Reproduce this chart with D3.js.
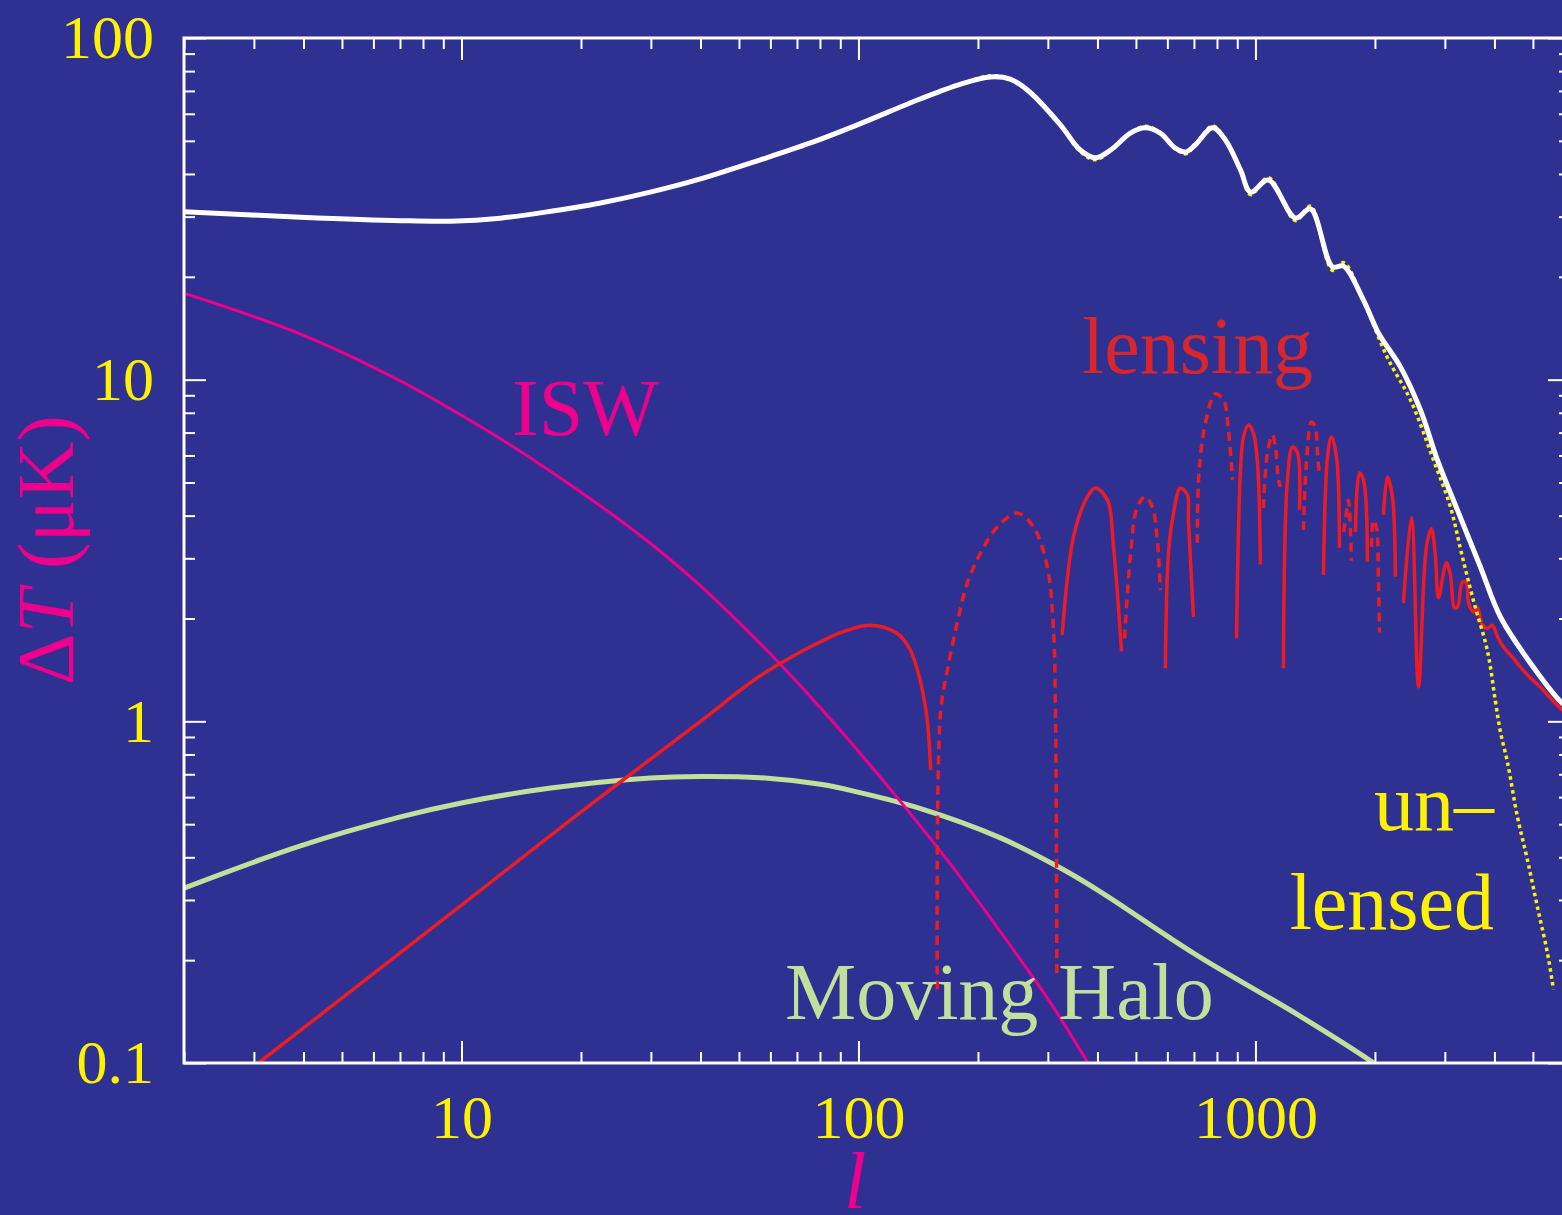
<!DOCTYPE html>
<html>
<head>
<meta charset="utf-8">
<script src="https://cdn.jsdelivr.net/npm/d3@7"></script>
<style>
  html, body { margin: 0; padding: 0; background: #2e3192; }
  svg { display: block; }
</style>
</head>
<body>
<svg width="1562" height="1215"></svg>
<script>
// multipole l and temperature amplitude (uK)
var totalL = [2, 3.93, 7.02, 9.38, 12.54, 16.8, 22.4, 29.9, 40, 56.6, 75.7, 99.4, 143, 181, 215, 241, 270, 323, 362, 395, 432, 484, 528, 576, 628, 667, 706, 780, 840, 917, 972, 1078, 1262, 1376, 1563, 1667, 1871, 2041, 2319, 2604, 2873, 3228, 3688, 4142, 5015, 5933, 6200];
var totalV = [31.0, 29.9, 29.2, 29.1, 29.7, 31.1, 32.9, 35.4, 38.7, 44.0, 49.3, 55.7, 66.3, 73.3, 76.9, 75.8, 69.5, 55.6, 47.0, 44.6, 47.0, 52.7, 54.6, 52.7, 47.6, 46.4, 48.7, 54.6, 50.3, 41.1, 35.4, 38.4, 29.7, 31.6, 21.4, 21.5, 17.1, 13.7, 10.9, 8.15, 5.82, 4.15, 2.83, 2.02, 1.44, 1.13, 1.10];

var unlensL = [2, 3.93, 7.02, 9.38, 12.54, 16.8, 22.4, 29.9, 40, 56.6, 75.7, 99.4, 143, 181, 215, 241, 270, 323, 362, 395, 432, 484, 528, 576, 628, 667, 706, 780, 840, 917, 972, 1078, 1262, 1376, 1563, 1667, 1871, 2150, 2458, 2808, 3099, 3303, 3540, 3840, 4020, 4142, 4313, 4571, 4844, 5133, 5439, 5633];
var unlensV = [31.0, 29.9, 29.2, 29.1, 29.7, 31.1, 32.9, 35.4, 38.7, 44.0, 49.3, 55.7, 66.3, 73.3, 77.5, 75.8, 69.5, 55.6, 46.5, 44.0, 47.0, 52.7, 55.2, 52.7, 47.6, 45.8, 48.7, 55.3, 50.3, 41.1, 34.8, 39.0, 29.2, 32.2, 20.9, 22.0, 17.0, 11.6, 8.72, 5.82, 4.24, 3.11, 2.26, 1.61, 1.15, 0.93, 0.76, 0.525, 0.393, 0.286, 0.21, 0.164];

var iswL = [2, 3.93, 7.02, 11.16, 14.7, 22.4, 29.9, 40, 61.8, 80.2, 97.1, 125.4, 170.5, 227.9, 304.6, 377.4, 420];
var iswV = [17.9, 13.6, 9.91, 7.29, 5.97, 4.27, 3.32, 2.49, 1.52, 1.095, 0.850, 0.597, 0.382, 0.242, 0.150, 0.1007, 0.082];

var haloL = [2, 3.93, 7.02, 10, 16.8, 29.9, 40, 56.6, 80.2, 97.1, 140.8, 227.9, 322.7, 407, 706, 1298, 1960, 2500];
var haloV = [0.325, 0.432, 0.525, 0.577, 0.638, 0.683, 0.690, 0.684, 0.654, 0.625, 0.559, 0.456, 0.372, 0.317, 0.208, 0.137, 0.101, 0.082];

// lensing: negative = dashed (sign flip), 0 = gap
var lensL = [2.5, 3.08, 10, 20, 40, 55, 67, 80.2, 91.7, 107, 125, 135, 143, 149, 152,
  158, 161, 168, 178, 188, 203, 224, 251, 276, 299, 310, 313.5, 315, 316,
  326, 348, 377, 395, 424, 439, 460,
  468, 484, 504, 528, 550, 566, 576,
  593, 604, 622, 647, 674, 678, 698,
  714, 719, 740, 780, 793, 831, 855, 875,
  896, 917, 933, 960, 988, 1012, 1029,
  1047, 1072, 1104, 1123, 1143, 1156,
  1176, 1204, 1240, 1276, 1291,
  1321, 1344, 1384, 1416, 1433, 1450,
  1484, 1519, 1554, 1600, 1628,
  1667, 1695, 1715, 1735, 1745,
  1786, 1828, 1871, 1915,
  1960, 1983, 2017, 2041, 2053,
  2101, 2150, 2213, 2252,
  2300,
  2359, 2472, 2575, 2696, 2775, 2841, 2891, 3027, 3099, 3172, 3228, 3322, 3400, 3440, 3540, 3624, 3731, 3840, 3954, 4071, 4214, 4466, 4651, 4928, 5224, 5535, 5933, 6200];
var lensV = [0.083, 0.1, 0.29, 0.543, 1.0, 1.33, 1.53, 1.71, 1.83, 1.91, 1.81, 1.62, 1.32, 1.01, 0.72,
  -0.164, -1.06, -1.44, -1.98, -2.54, -3.11, -3.71, -4.07, -3.71, -2.83, -1.85, -1.06, -0.56, -0.18,
  1.79, 3.46, 4.54, 4.82, 4.44, 3.24, 1.6,
  -1.75, -3.03, -4.24, -4.54, -4.24, -3.39, -2.42,
  1.43, 3.11, 4.07, 4.82, 4.60, 3.88, 2.02,
  -3.33, -5.09, -6.98, -8.9, -9.1, -8.72, -7.12, -5.09,
  1.75, 5.44, 6.80, 7.37, 6.98, 5.70, 2.88,
  -4.21, -6.10, -6.89, -6.35, -5.09, -4.85,
  1.43, 5.09, 6.35, 6.10, 4.16,
  -3.63, -5.70, -7.52, -7.22, -6.10, -5.19,
  2.68, 5.94, 6.80, 5.94, 3.22,
  -3.58, -4.07, -4.44, -3.63, -2.95,
  3.58, 5.33, 5.09, 2.93,
  -3.24, -3.88, -3.71, -2.59, -1.82,
  4.02, 5.19, 4.54, 2.65,
  0,
  2.22, 3.94, 1.26, 3.24, 3.66, 3.03, 2.30, 2.91, 2.68, 2.15, 2.16, 2.56, 2.54, 2.23, 2.09, 2.15, 1.91, 1.87, 1.91, 1.77, 1.65, 1.53, 1.44, 1.34, 1.26, 1.17, 1.08, 1.05];

var xTickValues = [10, 100, 1000];
var yTickValues = [0.1, 1, 10, 100];

var serif = "'Liberation Serif', 'Times New Roman', Times, serif";
var yellow = "#fff200", magenta = "#ec008c", red = "#ed1c24", green = "#c4df9b";

var svg = d3.select("svg");
svg.append("rect").attr("width", 1562).attr("height", 1215).attr("fill", "#2e3192");

var x = d3.scaleLog().domain([2, 6200]).range([184, 1570]);
var y = d3.scaleLog().domain([0.1, 100]).range([1063, 38]);

var xMinor = [], yMinor = [];
[1, 10, 100, 1000].forEach(function (d) {
  for (var k = 2; k <= 9; k++) if (d * k >= 2 && d * k <= 6200) xMinor.push(d * k);
});
[0.1, 1, 10].forEach(function (d) {
  for (var k = 2; k <= 9; k++) yMinor.push(d * k);
});

svg.append("defs").append("clipPath").attr("id", "plot")
  .append("rect")
  .attr("x", x(2)).attr("y", y(100))
  .attr("width", x(6200) - x(2)).attr("height", y(0.1) - y(100));

function styleAxis(g) {
  g.select(".domain").remove();
  g.selectAll("line").attr("stroke", "#fff").attr("stroke-width", 2);
  g.selectAll("text").attr("fill", yellow).attr("font-size", 62).attr("font-family", serif);
}

// bottom
svg.append("g").attr("transform", "translate(0," + y(0.1) + ")")
  .call(d3.axisBottom(x).tickValues(xTickValues).tickSize(-22).tickPadding(31).tickFormat(d3.format("d")))
  .call(styleAxis);
svg.append("g").attr("transform", "translate(0," + y(0.1) + ")")
  .call(d3.axisBottom(x).tickValues(xMinor).tickSize(-11).tickFormat(""))
  .call(styleAxis);
// top
svg.append("g").attr("transform", "translate(0," + y(100) + ")")
  .call(d3.axisTop(x).tickValues(xTickValues).tickSize(-22).tickFormat(""))
  .call(styleAxis);
svg.append("g").attr("transform", "translate(0," + y(100) + ")")
  .call(d3.axisTop(x).tickValues(xMinor).tickSize(-11).tickFormat(""))
  .call(styleAxis);
// left
svg.append("g").attr("transform", "translate(" + x(2) + ",0)")
  .call(d3.axisLeft(y).tickValues(yTickValues).tickSize(-22).tickPadding(30).tickFormat(d3.format("~g")))
  .call(styleAxis);
svg.append("g").attr("transform", "translate(" + x(2) + ",0)")
  .call(d3.axisLeft(y).tickValues(yMinor).tickSize(-11).tickFormat(""))
  .call(styleAxis);
// right
svg.append("g").attr("transform", "translate(" + x(6200) + ",0)")
  .call(d3.axisRight(y).tickValues(yTickValues).tickSize(-22).tickFormat(""))
  .call(styleAxis);
svg.append("g").attr("transform", "translate(" + x(6200) + ",0)")
  .call(d3.axisRight(y).tickValues(yMinor).tickSize(-11).tickFormat(""))
  .call(styleAxis);

var line = d3.line()
  .x(function (d) { return x(d.l); })
  .y(function (d) { return y(Math.abs(d.v)); })
  .curve(d3.curveCatmullRom.alpha(0.5));

function pts(ls, vs) {
  return ls.map(function (l, i) { return { l: l, v: vs[i] }; });
}

var curves = svg.append("g").attr("clip-path", "url(#plot)");

curves.append("path").datum(pts(haloL, haloV))
  .attr("d", line).attr("fill", "none").attr("stroke", green).attr("stroke-width", 5);

curves.append("path").datum(pts(iswL, iswV))
  .attr("d", line).attr("fill", "none").attr("stroke", magenta).attr("stroke-width", 3);

// split lensing into runs of one sign
var segs = [], cur = [], curSign = 0;
pts(lensL, lensV).forEach(function (p) {
  if (p.v === 0) { if (cur.length) segs.push({ s: curSign, p: cur }); cur = []; return; }
  var s = Math.sign(p.v);
  if (cur.length && s !== curSign) { segs.push({ s: curSign, p: cur }); cur = []; }
  cur.push(p); curSign = s;
});
if (cur.length) segs.push({ s: curSign, p: cur });

curves.selectAll(".lens").data(segs).enter().append("path")
  .attr("class", "lens")
  .attr("d", function (d) { return line(d.p); })
  .attr("fill", "none").attr("stroke", red).attr("stroke-width", 3.5)
  .attr("stroke-dasharray", function (d) { return d.s < 0 ? "9,6" : null; });

curves.append("path").datum(pts(unlensL, unlensV))
  .attr("d", line).attr("fill", "none").attr("stroke", yellow)
  .attr("stroke-width", 3.5).attr("stroke-dasharray", "3.5,3.5");

curves.append("path").datum(pts(totalL, totalV))
  .attr("d", line).attr("fill", "none").attr("stroke", "#fff").attr("stroke-width", 5);

// frame
svg.append("rect")
  .attr("x", x(2)).attr("y", y(100))
  .attr("width", x(6200) - x(2)).attr("height", y(0.1) - y(100))
  .attr("fill", "none").attr("stroke", "#fff").attr("stroke-width", 3);

// axis titles
var yl = svg.append("text")
  .attr("transform", "translate(73,550) rotate(-90)")
  .attr("text-anchor", "middle")
  .attr("font-family", serif).attr("font-size", 80).attr("fill", magenta);
yl.append("tspan").text("Δ");
yl.append("tspan").attr("font-style", "italic").text("T");
yl.append("tspan").text(" (μK)");

svg.append("text").attr("x", 855).attr("y", 1208)
  .attr("text-anchor", "middle").attr("font-style", "italic")
  .attr("font-family", serif).attr("font-size", 80).attr("fill", magenta)
  .text("l");

// curve labels
function label(txt, px, py, color, anchor) {
  svg.append("text").attr("x", px).attr("y", py)
    .attr("text-anchor", anchor || "start")
    .attr("font-family", serif).attr("font-size", 80).attr("fill", color)
    .text(txt);
}
label("ISW", 512, 435, magenta);
label("lensing", 1082, 373, "#d9262c");
label("Moving Halo", 785, 1019, green);
label("un–", 1494, 830, yellow, "end");
label("lensed", 1494, 929, yellow, "end");
</script>
</body>
</html>
